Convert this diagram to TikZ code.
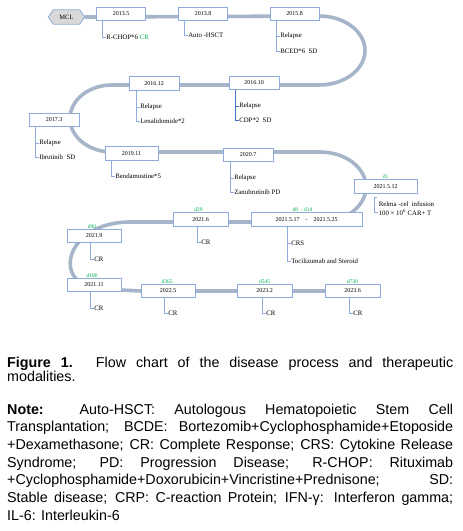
\documentclass[tikz,border=0pt]{standalone}
\usepackage{fontspec}
\setmainfont{Liberation Sans}
\newfontfamily\dg{Liberation Serif}
\usetikzlibrary{calc}
\pgfdeclarelayer{background}
\pgfsetlayers{background,main}
\definecolor{trk}{RGB}{166,181,201}
\definecolor{bx}{RGB}{143,170,220}
\definecolor{bxd}{RGB}{68,114,196}
\definecolor{grn}{RGB}{0,176,80}
\definecolor{hexf}{RGB}{217,217,217}
\begin{document}
\begin{tikzpicture}[x=1pt,y=-1pt,
  datebox/.style={draw=bx, fill=white, line width=0.8pt, minimum height=13.5pt, inner sep=0pt, font=\dg\fontsize{6}{7}\selectfont},
  ann/.style={anchor=west, inner sep=0.6pt, font=\dg\fontsize{6.8}{8}\selectfont},
  day/.style={anchor=south, inner sep=0.3pt, text=grn, font=\dg\fontsize{5.5}{6}\selectfont},
  brk/.style={draw=bx, line width=0.5pt},
  brkd/.style={draw=bxd, line width=0.5pt},
  track/.style={draw=trk, line width=3.6pt},
  capline/.style={anchor=base west, inner sep=0pt, font=\fontsize{14.3}{16}\selectfont}]
\useasboundingbox (0,0) rectangle (463,531);

% MCL start
\node[inner sep=0pt, minimum width=36pt, minimum height=14pt, font=\dg\fontsize{6.5}{7}\selectfont] (mcl) at (66.5,17) {MCL};

% date boxes
\node[datebox, minimum width=49pt] (b1) at (121,14) {2013.5};
\node[datebox, minimum width=49pt] (b2) at (203,14) {2013.8};
\node[datebox, minimum width=49pt] (b3) at (294.5,14) {2015.8};
\node[datebox, minimum width=50pt] (b4) at (254,83) {2016.10};
\node[datebox, minimum width=50pt] (b5) at (154,83.5) {2016.12};
\node[datebox, minimum width=50pt, minimum height=12.5pt] (b6) at (54,120) {2017.3};
\node[datebox, minimum width=53pt] (b7) at (131.5,153.5) {2019.11};
\node[datebox, minimum width=50pt] (b8) at (248,155) {2020.7};
\node[datebox, minimum width=63pt] (b9) at (385.5,186.5) {2021.5.12};
\node[datebox, minimum width=111pt] (b10) at (306.5,219.5) {2021.5.17\quad-\quad2021.5.25};
\node[datebox, minimum width=55pt] (b11) at (200.5,219.5) {2021.6};
\node[datebox, minimum width=54pt] (b12) at (94,236) {2021.9};
\node[datebox, minimum width=54pt] (b13) at (94,285) {2021.11};
\node[datebox, minimum width=54pt] (b14) at (168,291) {2022.5};
\node[datebox, minimum width=55pt] (b15) at (264.5,291) {2023.2};
\node[datebox, minimum width=55pt] (b16) at (352.5,291) {2023.6};

% track
\coordinate (r1) at (319,16);
\coordinate (l1) at (112,85);
\coordinate (r2) at (320,152);
\coordinate (l2) at (130,222);
\coordinate (j0) at (100,289);
\coordinate (j1) at (141,291);
\begin{pgfonlayer}{background}
\draw[track] (mcl.east) -- (r1)
  arc[start angle=90, end angle=-90, x radius=46pt, y radius=34.5pt]
  -- (l1)
  arc[start angle=90, end angle=270, x radius=42pt, y radius=33.5pt]
  -- (r2)
  arc[start angle=90, end angle=-90, x radius=46pt, y radius=35pt]
  -- (l2) .. controls (65,222) and (50,285) .. (j0) -- (j1) -- (b16.center);
\draw[draw=bx, fill=hexf, line width=0.8pt] (mcl.west) -- ([xshift=5pt]mcl.north west) -- ([xshift=-5pt]mcl.north east) -- (mcl.east) -- ([xshift=-5pt]mcl.south east) -- ([xshift=5pt]mcl.south west) -- cycle;
\end{pgfonlayer}

% annotations
\node[ann] (a1) at (105.5,37) {R-CHOP*6 \textcolor{grn}{CR}};
\draw[brk] ([xshift=-3.5pt]a1.west |- b1.south) |- (a1.west);
\node[ann] (a2) at (187.5,35) {Auto -HSCT};
\draw[brk] ([xshift=-3.5pt]a2.west |- b2.south) |- (a2.west);
\node[ann] (a3a) at (279.5,36) {Relapse};
\node[ann] (a3b) at (279.5,51) {BCED*6\ \ SD};
\draw[brk] ([xshift=-3.5pt]a3b.west |- b3.south) |- (a3b.west);
\draw[brk] ([xshift=-3.5pt]a3a.west) -- (a3a.west);
\node[ann] (a5a) at (139.5,107) {Relapse};
\node[ann] (a5b) at (139.5,121) {Lenalidomide*2};
\draw[brk] ([xshift=-3.5pt]a5b.west |- b5.south) |- (a5b.west);
\draw[brk] ([xshift=-3.5pt]a5a.west) -- (a5a.west);
\node[ann] (a4a) at (238.5,106) {Relapse};
\node[ann] (a4b) at (238.5,120) {CDP*2\ \ SD};
\draw[brkd] ([xshift=-3.5pt]a4b.west |- b4.south) |- (a4b.west);
\draw[brkd] ([xshift=-3.5pt]a4a.west) -- (a4a.west);
\node[ann] (a6a) at (38.5,143) {Relapse};
\node[ann] (a6b) at (38.5,157) {Ibrutinib\ \ SD};
\draw[brk] ([xshift=-3.5pt]a6b.west |- b6.south) |- (a6b.west);
\draw[brk] ([xshift=-3.5pt]a6a.west) -- (a6a.west);
\node[ann] (a7) at (114.5,176) {Bendamustine*5};
\draw[brk] ([xshift=-3.5pt]a7.west |- b7.south) |- (a7.west);
\node[ann] (a8a) at (233.5,178) {Relapse};
\node[ann] (a8b) at (233.5,192) {Zanubrutinib PD};
\draw[brk] ([xshift=-3.5pt]a8b.west |- b8.south) |- (a8b.west);
\draw[brk] ([xshift=-3.5pt]a8a.west) -- (a8a.west);
\node[ann] (a9a) at (378,204) {Relma -cel\ \ infusion};
\node[ann] (a9b) at (378,212) {100 × 10\textsuperscript{6} CAR+ T};
\draw[brk] ([xshift=-1pt,yshift=-4pt]a9b.west |- b9.south) -- ([xshift=-3.5pt,yshift=-4pt]a9b.west |- b9.south) |- (a9b.west);
\node[ann] (a10a) at (290.5,243) {CRS};
\node[ann] (a10b) at (290.5,261) {Tocilizumab and Steroid};
\draw[brk] ([xshift=-3.5pt]a10b.west |- b10.south) |- (a10b.west);
\draw[brk] ([xshift=-3.5pt]a10a.west) -- (a10a.west);
\node[ann] (a11) at (200.5,242) {CR};
\draw[brk] ([xshift=-3.5pt]a11.west |- b11.south) |- (a11.west);
\node[ann] (a12) at (93.5,259) {CR};
\draw[brk] ([xshift=-3.5pt]a12.west |- b12.south) |- (a12.west);
\node[ann] (a13) at (93.5,308) {CR};
\draw[brk] ([xshift=-3.5pt]a13.west |- b13.south) |- (a13.west);
\node[ann] (a14) at (167.5,313) {CR};
\draw[brk] ([xshift=-3.5pt]a14.west |- b14.south) |- (a14.west);
\node[ann] (a15) at (265.5,313) {CR};
\draw[brk] ([xshift=-3.5pt]a15.west |- b15.south) |- (a15.west);
\node[ann] (a16) at (352.5,313) {CR};
\draw[brk] ([xshift=-3.5pt]a16.west |- b16.south) |- (a16.west);

% day labels
\node[day] (d1) at (b9.north) {d1};
\node[day] (d2) at ([xshift=-4pt]b10.north) {d8\ \ -\ d14};
\node[day] (d3) at ([xshift=-2pt]b11.north) {d29};
\node[day] (d4) at ([xshift=-2pt]b12.north) {d90};
\node[day] (d5) at ([xshift=-2pt]b13.north) {d180};
\node[day] (d6) at ([xshift=-1pt]b14.north) {d365};
\node[day] (d7) at (b15.north) {d545};
\node[day] (d8) at (b16.north) {d730};

% caption
\node[capline] (c1) at (7,367) {\makebox[446pt][s]{\textbf{Figure 1.} Flow chart of the disease process and therapeutic}};
\node[capline] (c2) at (7,381) {modalities.};
\node[capline] (n1) at (7,414) {\makebox[446pt][s]{\textbf{Note:} Auto-HSCT: Autologous Hematopoietic Stem Cell}};
\node[capline] (n2) at (7,431.7) {\makebox[446pt][s]{Transplantation; BCDE: Bortezomib+Cyclophosphamide+Etoposide}};
\node[capline] (n3) at (7,449.4) {\makebox[446pt][s]{+Dexamethasone; CR: Complete Response; CRS: Cytokine Release}};
\node[capline] (n4) at (7,467.1) {\makebox[446pt][s]{Syndrome; PD: Progression Disease; R-CHOP: Rituximab}};
\node[capline] (n5) at (7,484.8) {\makebox[446pt][s]{+Cyclophosphamide+Doxorubicin+Vincristine+Prednisone; SD:}};
\node[capline] (n6) at (7,502.5) {\makebox[446pt][s]{Stable disease; CRP: C-reaction Protein; IFN-γ: Interferon gamma;}};
\node[capline] (n7) at (7,520.2) {IL-6: Interleukin-6};
\end{tikzpicture}
\end{document}
